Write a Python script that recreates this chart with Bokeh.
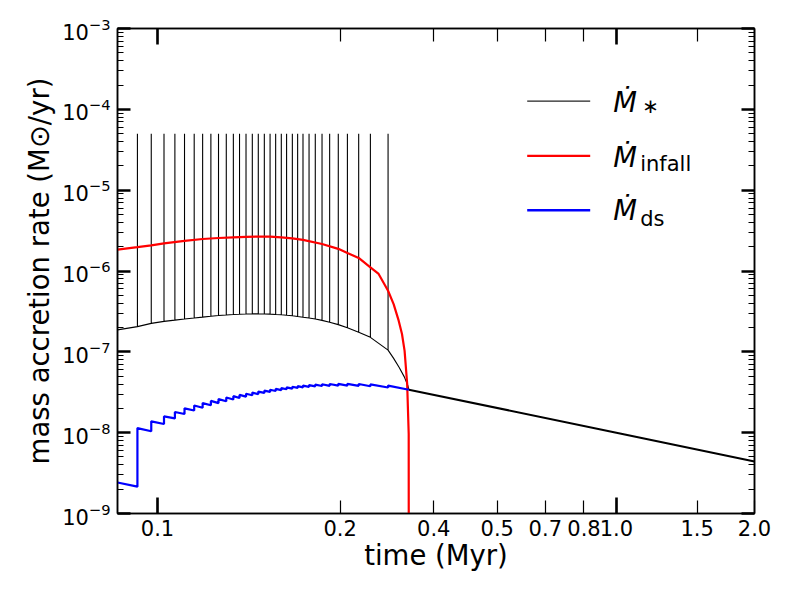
import numpy as np
from bokeh.plotting import figure
from bokeh.models import (Range1d, LogAxis, FixedTicker, CustomJSTickFormatter,
                          Label, BoxAnnotation, LogTickFormatter)
from bokeh.embed import file_html
from bokeh.resources import INLINE

# ---------------- data ----------------
# burst times (Myr) of the accretion spikes
burst_t = [0.0904, 0.0969, 0.1033, 0.1091, 0.1145, 0.1202, 0.1254, 0.1307,
           0.1358, 0.1412, 0.1463, 0.1509, 0.1559, 0.1609, 0.1658, 0.1709,
           0.1759, 0.1809, 0.1861, 0.1911, 0.1967, 0.2020, 0.2075, 0.2139,
           0.2207, 0.2283, 0.2372, 0.2477, 0.2593, 0.2744, 0.2910, 0.3180]
# quiescent stellar accretion rate at each burst (bottom of each spike)
black_base = [2.05e-7, 2.25e-7, 2.38e-7, 2.47e-7, 2.55e-7, 2.62e-7, 2.69e-7, 2.75e-7,
              2.81e-7, 2.86e-7, 2.90e-7, 2.92e-7, 2.94e-7, 2.95e-7, 2.95e-7, 2.94e-7,
              2.93e-7, 2.90e-7, 2.87e-7, 2.84e-7, 2.80e-7, 2.74e-7, 2.68e-7, 2.62e-7,
              2.55e-7, 2.45e-7, 2.32e-7, 2.17e-7, 1.98e-7, 1.75e-7, 1.51e-7, 1.05e-7]
burst_peak = 5e-5
black_pre_t = [0.0818]
black_pre_v = [1.87e-7]
black_post_t = [0.3270, 0.3363, 0.3450, 0.3513, 0.3530]
black_post_v = [8.3e-8, 6.4e-8, 4.9e-8, 3.8e-8, 3.4e-8]
# late-time stellar accretion (disc only)
tail_t = [0.3530, 1.0, 2.0]
tail_v = [3.4e-8, 1.0e-8, 4.4e-9]

# infall rate
red_t = [0.0818, 0.0904, 0.0969, 0.1033, 0.1145, 0.1254, 0.1358, 0.1463,
         0.1559, 0.1658, 0.1759, 0.1861, 0.1967, 0.2075, 0.2283, 0.2477,
         0.2593, 0.2744, 0.2910, 0.3033, 0.3180, 0.3270, 0.3354, 0.3410,
         0.3455, 0.3500, 0.3527, 0.3530]
red_v = [1.84e-6, 1.97e-6, 2.08e-6, 2.20e-6, 2.36e-6, 2.49e-6, 2.56e-6, 2.61e-6,
         2.65e-6, 2.67e-6, 2.66e-6, 2.61e-6, 2.53e-6, 2.43e-6, 2.16e-6, 1.88e-6,
         1.67e-6, 1.45e-6, 1.11e-6, 9.2e-7, 5.7e-7, 3.9e-7, 2.43e-7, 1.66e-7,
         1.03e-7, 4.0e-8, 9.6e-9, 1e-12]

# disc-to-star rate: value just before and just after each burst
blue_start_t, blue_start_v = 0.0818, 2.42e-9
blue_pre = [2.15e-9, 1.04e-8, 1.28e-8, 1.50e-8, 1.70e-8, 1.88e-8, 2.03e-8, 2.18e-8,
            2.32e-8, 2.45e-8, 2.57e-8, 2.68e-8, 2.79e-8, 2.90e-8, 3.00e-8, 3.10e-8,
            3.19e-8, 3.28e-8, 3.36e-8, 3.44e-8, 3.51e-8, 3.58e-8, 3.64e-8, 3.69e-8,
            3.74e-8, 3.78e-8, 3.80e-8, 3.82e-8, 3.82e-8, 3.80e-8, 3.75e-8, 3.62e-8]
blue_post = [1.14e-8, 1.38e-8, 1.59e-8, 1.80e-8, 2.00e-8, 2.17e-8, 2.32e-8, 2.47e-8,
             2.60e-8, 2.72e-8, 2.83e-8, 2.93e-8, 3.03e-8, 3.13e-8, 3.22e-8, 3.31e-8,
             3.40e-8, 3.48e-8, 3.56e-8, 3.63e-8, 3.70e-8, 3.76e-8, 3.82e-8, 3.88e-8,
             3.93e-8, 3.97e-8, 4.00e-8, 4.02e-8, 4.02e-8, 4.00e-8, 3.95e-8, 3.82e-8]
blue_end_t, blue_end_v = 0.3530, 3.4e-8

x_ticks = [0.1, 0.25, 0.4, 0.55, 0.7, 0.85, 1.0, 1.5, 2.0]
x_tick_labels = ["0.1", "0.2", "0.4", "0.5", "0.7", "0.8", "1.0", "1.5", "2.0"]
x_major_ticks = [0.1, 1.0]
y_ticks = [1e-9, 1e-8, 1e-7, 1e-6, 1e-5, 1e-4, 1e-3]
y_minor_ticks = [k * 10.0 ** e for e in range(-9, -3) for k in range(2, 10)]

x_lim = (0.0818, 2.0)
y_lim = (1e-9, 1e-3)

# ---------------- build series ----------------
black_x = list(black_pre_t)
black_y = list(black_pre_v)
for t, b in zip(burst_t, black_base):
    black_x += [t, t, t]
    black_y += [b, burst_peak, b]
black_x += black_post_t
black_y += black_post_v

blue_x = [blue_start_t]
blue_y = [blue_start_v]
for t, d, u in zip(burst_t, blue_pre, blue_post):
    blue_x += [t, t]
    blue_y += [d, u]
blue_x.append(blue_end_t)
blue_y.append(blue_end_v)

FONT = "DejaVu Sans"

p = figure(width=784, height=590, x_axis_type="log", y_axis_type="log",
           x_range=Range1d(*x_lim), y_range=Range1d(*y_lim),
           output_backend="svg", toolbar_location=None,
           min_border_left=117, min_border_right=30,
           min_border_top=28, min_border_bottom=77)
p.grid.visible = False
p.outline_line_color = "black"
p.outline_line_width = 1.5
p.background_fill_color = "white"
p.border_fill_color = "white"

p.line(black_x, black_y, line_color="black", line_width=1.1)
p.line(tail_t, tail_v, line_color="black", line_width=2)
p.line(red_t, red_v, line_color="#ff0000", line_width=2.2)
p.line(blue_x, blue_y, line_color="#0000ff", line_width=2.2)

# bottom / left axes
xa = p.xaxis[0]
xa.ticker = FixedTicker(ticks=x_ticks, minor_ticks=x_major_ticks)
xa.major_label_overrides = {t: l for t, l in zip(x_ticks, x_tick_labels)}
xa.axis_label = "time (Myr)"
ya = p.yaxis[0]
ya.ticker = FixedTicker(ticks=y_ticks, minor_ticks=y_minor_ticks)
ya.formatter = LogTickFormatter()
ya.axis_label = "mass accretion rate (M\u2299/yr)"

def style_x(ax):
    ax.axis_line_color = "black"
    ax.axis_line_width = 1.5
    ax.major_tick_in = 13
    ax.major_tick_out = 0
    ax.major_tick_line_width = 1.2
    ax.minor_tick_in = 16
    ax.minor_tick_out = 0
    ax.minor_tick_line_width = 2.6

def style_y(ax):
    ax.axis_line_color = "black"
    ax.axis_line_width = 1.5
    ax.major_tick_in = 13
    ax.major_tick_out = 0
    ax.major_tick_line_width = 2.4
    ax.minor_tick_in = 6
    ax.minor_tick_out = 0
    ax.minor_tick_line_width = 1.2

for ax in (xa, ya):
    ax.major_label_text_font = FONT
    ax.major_label_text_font_size = "21px"
    ax.major_label_text_color = "black"
    ax.axis_label_text_font = FONT
    ax.axis_label_text_font_size = "27.5px"
    ax.axis_label_text_font_style = "normal"
    ax.axis_label_text_color = "black"
style_x(xa)
style_y(ya)
xa.major_label_standoff = 6
xa.axis_label_standoff = 0
ya.major_label_standoff = 7
ya.axis_label_standoff = 4

blank = CustomJSTickFormatter(code="return ''")
top = LogAxis(ticker=FixedTicker(ticks=x_ticks, minor_ticks=x_major_ticks),
              formatter=blank, major_label_standoff=0,
              major_label_text_font_size="1px")
style_x(top)
p.add_layout(top, "above")
right = LogAxis(ticker=FixedTicker(ticks=y_ticks, minor_ticks=y_minor_ticks),
                formatter=blank, major_label_standoff=0,
                major_label_text_font_size="1px")
style_y(right)
p.add_layout(right, "right")

# legend (screen units relative to the frame, y upward from frame bottom)
leg_colors = ["#222222", "#ff0000", "#0000ff"]
leg_heights = [1.2, 2.4, 2.4]
leg_y = [412.3, 357.6, 303.3]
for c, h, yy in zip(leg_colors, leg_heights, leg_y):
    p.add_layout(BoxAnnotation(left=409.7, right=472.7, bottom=yy - h / 2, top=yy + h / 2,
                               left_units="screen", right_units="screen",
                               top_units="screen", bottom_units="screen",
                               fill_color=c, fill_alpha=1.0, line_color=None))

leg_base = [411.6, 356.6, 303.3]
sub_text = ["\u2217", "infall", "ds"]
sub_y = [407.6, 349.3, 294.6]
sub_x = [524.7, 522.7, 522.7]
sub_size = ["20px", "21px", "21px"]
for yb, s, sy, sx, ss in zip(leg_base, sub_text, sub_y, sub_x, sub_size):
    p.add_layout(Label(x=495.7, y=yb, x_units="screen", y_units="screen",
                       text="\u1E40", text_font=FONT, text_font_style="italic",
                       text_font_size="27.5px", text_color="black",
                       text_baseline="alphabetic"))
    p.add_layout(Label(x=sx, y=sy, x_units="screen", y_units="screen",
                       text=s, text_font=FONT, text_font_size=ss,
                       text_color="black", text_baseline="alphabetic"))

open("out.html", "w").write(file_html(p, INLINE))
